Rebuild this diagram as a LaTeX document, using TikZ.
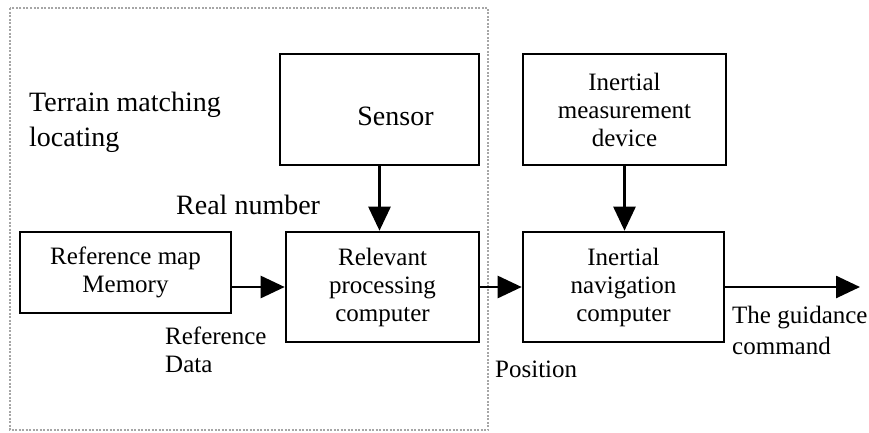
\documentclass[tikz,border=0pt]{standalone}
\usepackage{fontspec}
\setmainfont{Liberation Serif}
\usepackage{tikz}
\usetikzlibrary{arrows.meta}
\usetikzlibrary{calc}

\tikzset{
    block/.style={draw, line width=2.6pt, align=center, inner sep=0pt, font=\fontsize{25}{28}\selectfont},
    note/.style={align=left, inner sep=0pt, font=\fontsize{25}{28}\selectfont},
    flow/.style={line width=2.6pt, -{Triangle[length=24pt,width=22pt]}},
}

\begin{document}
\begin{tikzpicture}[x=1pt,y=-1pt]
        \useasboundingbox (0,0) rectangle (869,432);

        % terrain matching part
        \draw[gray!70, line width=2pt, dash pattern=on 2pt off 1.5pt] (10,8) rectangle (488,430);

        \node[block, minimum width=199pt, minimum height=111pt,
              label={[font=\fontsize{28}{32}\selectfont, xshift=16pt, yshift=-7pt]center:Sensor}] (sensor) at (379.5,109.5) {};
        \node[block, minimum width=211pt, minimum height=81pt] (mem) at (125.5,272.5) {Reference map\\Memory};
        \node[block, minimum width=193pt, minimum height=110pt] (rel) at (382.5,287) {Relevant\\processing\\computer};

        % inertial part
        \node[block, minimum width=203pt, minimum height=111pt] (imu) at (624.5,109.5) {Inertial\\measurement\\device};
        \node[block, minimum width=201pt, minimum height=110pt] (inc) at (623.5,287) {Inertial\\navigation\\computer};
        \coordinate (out) at (860,287);

        \draw[flow] (sensor.south) -- (sensor.south |- rel.north);
        \draw[flow] (mem.east |- rel.west) -- (rel.west);
        \draw[flow] (rel.east) -- (inc.west);
        \draw[flow] (imu.south) -- (imu.south |- inc.north);
        \draw[flow] (inc.east) -- (out);

        % labels
        \node[note, anchor=north west, font=\fontsize{28}{35}\selectfont] (terrain) at (29,92) {Terrain matching\\locating};
        \node[note, anchor=base west, font=\fontsize{28}{35}\selectfont] (real) at (176,214) {Real number};
        \node[note, anchor=north west] (refdata) at (165,327) {Reference\\Data};
        \node[note, anchor=base west] (pos) at (495,377) {Position};
        \node[note, anchor=north west, font=\fontsize{25}{31}\selectfont] (cmd) at (732,306) {The guidance\\command};
\end{tikzpicture}
\end{document}
